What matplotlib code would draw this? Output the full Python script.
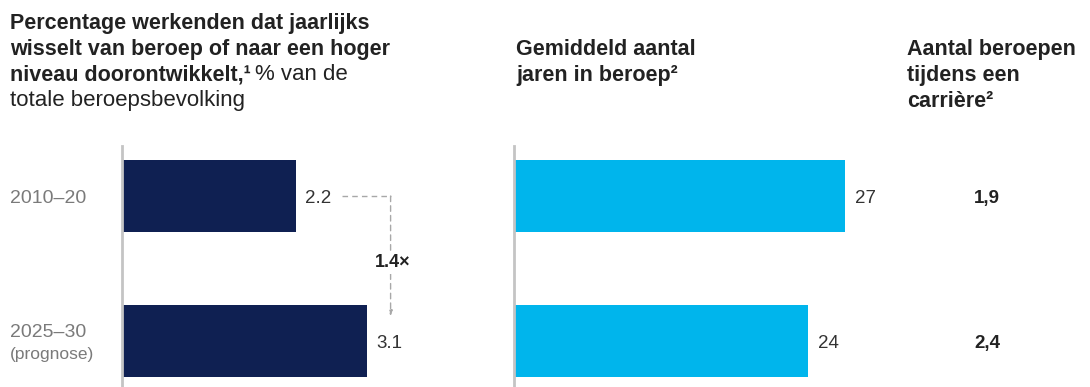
import matplotlib
matplotlib.use("Agg")
import matplotlib.pyplot as plt
from matplotlib.transforms import blended_transform_factory

plt.rcParams['font.family'] = ['Liberation Sans', 'DejaVu Sans']

periods = ['2010–20', '2025–30']
period_notes = ['', '(prognose)']
switch_rate = [2.2, 3.1]          # % of workforce per year
years_in_job = [27, 24]
jobs_per_career = ['1,9', '2,4']

navy = '#0f2052'
cyan = '#00b5ec'
axis_grey = '#c4c4c4'
label_grey = '#7a7a7a'
text_dark = '#222222'

W, H = 1090, 387
fig = plt.figure(figsize=(W / 100, H / 100), dpi=100)

def px_axes(left, top, width, bottom):
    return fig.add_axes([left / W, 1 - bottom / H, width / W, (bottom - top) / H])

ypos = [0, 1]
ylim = (1.317, -0.345)

ax1 = px_axes(122, 146, 330, 387)
ax1.barh(ypos, switch_rate, height=0.5, color=navy)
ax1.set_xlim(0, 330 / 79)

ax2 = px_axes(514, 146, 360, 387)
ax2.barh(ypos, years_in_job, height=0.5, color=cyan)
ax2.set_xlim(0, 360 / 12.25)

for ax in (ax1, ax2):
    ax.set_ylim(*ylim)
    for s in ('top', 'right', 'bottom'):
        ax.spines[s].set_visible(False)
    ax.spines['left'].set_color(axis_grey)
    ax.spines['left'].set_linewidth(2)
    ax.set_xticks([])
    ax.set_yticks([])

# value labels
for y, v in zip(ypos, switch_rate):
    ax1.text(v + 0.12, y, f'{v:.1f}', va='center_baseline', ha='left',
             fontsize=13.5, color='#333333')
for y, v in zip(ypos, years_in_job):
    ax2.text(v + 0.8, y, f'{v}', va='center_baseline', ha='left',
             fontsize=13.5, color='#333333')

# category labels
cat_tr = blended_transform_factory(fig.transFigure, ax1.transData)
ax1.text(10 / W, 0, periods[0], transform=cat_tr, va='center_baseline', ha='left',
         fontsize=14, color=label_grey)
ax1.text(10 / W, 1 - 0.076, periods[1], transform=cat_tr, va='center_baseline', ha='left',
         fontsize=14, color=label_grey)
ax1.text(10 / W, 1 + 0.085, period_notes[1], transform=cat_tr, va='center_baseline',
         ha='left', fontsize=12.5, color=label_grey)

# jobs per career column
col_tr = blended_transform_factory(fig.transFigure, ax2.transData)
for y, s in zip(ypos, jobs_per_career):
    ax2.text(987 / W, y, s, transform=col_tr, va='center_baseline', ha='center',
             fontsize=13.5, fontweight='bold', color=text_dark)

# growth bracket between the two periods
x_start = switch_rate[0] + 0.58
x_br = switch_rate[1] + 0.3
ax1.plot([x_start, x_br], [0, 0], ls=(0, (4, 3)), color='#a8a8a8', lw=1, clip_on=False)
ax1.annotate('', xy=(x_br, 1 - 0.17), xytext=(x_br, 0),
             arrowprops=dict(arrowstyle='-|>,head_length=0.3,head_width=0.1',
                             ls=(0, (4, 3)), color='#a8a8a8', lw=1,
                             shrinkA=0, shrinkB=0), annotation_clip=False)
ratio = switch_rate[1] / switch_rate[0]
ax1.text(x_br + 0.03, 0.46, f'{ratio:.1f}×', ha='center', va='center', fontsize=13,
         fontweight='bold', color=text_dark,
         bbox=dict(facecolor='white', edgecolor='none', pad=2))

# headings, one line at a time (baselines in pixels from the top)
def line(x, y, s, weight='bold', size=15.5):
    return fig.text(x / W, 1 - y / H, s, fontsize=size, fontweight=weight,
                    color=text_dark, va='baseline', ha='left')

line(10, 29, 'Percentage werkenden dat jaarlijks')
line(10, 55, 'wisselt van beroep of naar een hoger')
t_bold = line(10, 80, 'niveau doorontwikkelt,¹')
fig.canvas.draw()
bb = t_bold.get_window_extent()
fig.text(bb.x1 / W + 4 / W, 1 - 80 / H, '% van de', fontsize=16, color=text_dark,
         va='baseline', ha='left')
line(10, 106, 'totale beroepsbevolking', weight='normal', size=16)

line(516, 55, 'Gemiddeld aantal')
line(516, 81, 'jaren in beroep²')
line(907, 55, 'Aantal beroepen')
line(907, 81, 'tijdens een')
line(907, 107, 'carrière²')

fig.savefig('out.png', dpi=100, facecolor='white')
